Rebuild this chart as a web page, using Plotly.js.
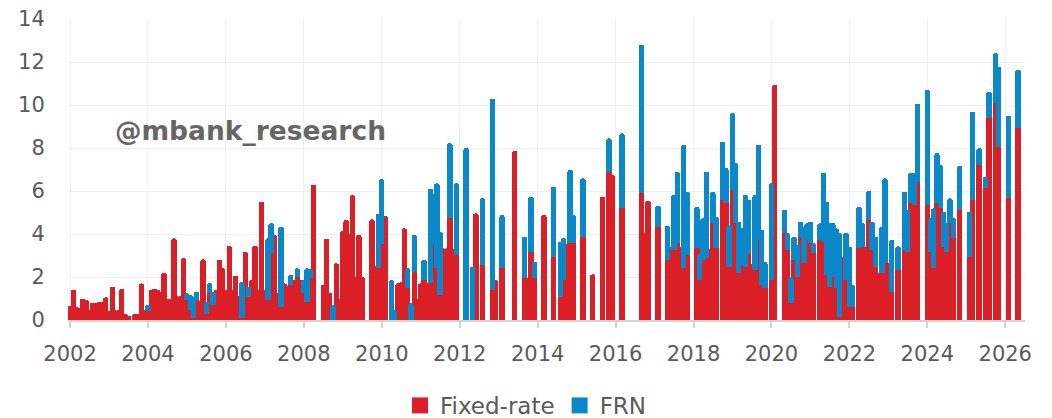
<!DOCTYPE html>
<html>
<head>
<meta charset="utf-8">
<script src="https://cdn.plot.ly/plotly-3.0.1.min.js"></script>
<style>
  html, body { margin: 0; padding: 0; background: #ffffff; }
  #chart { width: 1052px; height: 418px; }
</style>
</head>
<body>
<div id="chart"></div>
<script>
// Monthly issuance, starting January 2002 (one value per month)
const startYear = 2002;
const fixedRate = [
  0.65, 1.4, 0.6, 0.55, 1.0, 0.95, 0.45, 0.8, 0.8, 0.85, 0.85, 1.05,
  0.4, 1.55, 0.45, 0.45, 1.45, 0.3, 0.2, 0, 0.3, 0.3, 1.7, 0.45,
  0.4, 1.4, 1.45, 1.4, 1.3, 2.2, 1.0, 1.0, 3.8, 1.1, 1.1, 2.87,
  0.93, 0.45, 0.08, 0.93, 0.9, 2.82, 0.3, 1.24, 0.7, 1.4, 2.8, 2.4,
  1.4, 3.45, 1.4, 2.05, 1.1, 0.08, 3.18, 1.08, 1.85, 3.45, 1.4, 5.5,
  1.4, 0.93, 3.1, 3.95, 1.25, 0.62, 1.7, 1.6, 1.63, 1.85, 2.0, 1.85,
  1.25, 0.85, 1.95, 6.28, 0, 0, 1.63, 3.77, 1.25, 0, 2.63, 1.0,
  4.15, 4.65, 4.0, 5.8, 2.0, 3.95, 2.0, 0, 0, 4.68, 2.5, 2.4,
  3.55, 4.84, 0, 0, 0, 1.7, 1.75, 4.26, 1.5, 0, 2.25, 1.0,
  1.7, 1.85, 1.7, 1.7, 3.55, 2.4, 1.15, 3.33, 3.33, 4.73, 3.3, 3.02,
  0, 0, 0, 0, 0, 4.96, 0, 2.56, 0, 0, 1.4, 1.85,
  0, 2.4, 0, 0, 0, 7.86, 0, 0, 1.94, 1.94, 3.18, 1.94,
  0, 0, 4.88, 0, 0, 2.95, 0, 1.05, 1.86, 3.55, 3.57, 3.57,
  0, 0, 3.88, 0, 0, 2.12, 0, 0, 5.74, 0, 6.9, 6.74,
  0, 0, 5.19, 0, 0, 0, 0, 0, 5.89, 4.03, 5.55, 0,
  0, 4.34, 0, 0, 2.79, 3.41, 3.26, 3.57, 3.4, 2.4, 3.02, 0,
  0, 3.33, 1.86, 2.79, 2.87, 3.3, 4.5, 3.33, 0, 5.58, 5.43, 2.48,
  6.05, 4.5, 2.17, 2.56, 2.48, 3.1, 2.6, 2.33, 3.72, 1.63, 1.47, 0,
  1.86, 10.93, 0, 0, 4.03, 3.26, 0.78, 2.79, 2.02, 3.88, 2.64, 3.72,
  3.57, 3.1, 0, 3.72, 3.64, 2.09, 1.55, 2.0, 1.47, 0.16, 2.95, 1.86,
  0.62, 0.62, 0, 3.33, 3.41, 3.4, 4.65, 3.26, 2.48, 2.2, 2.17, 2.64,
  2.64, 1.32, 0, 2.33, 0, 3.26, 3.18, 5.43, 5.35, 6.43, 0, 0,
  5.35, 3.18, 2.4, 5.43, 5.19, 3.41, 3.18, 4.5, 3.8, 0, 5.12, 0,
  0, 2.95, 5.58, 0, 7.21, 0, 6.12, 9.38, 0, 10.08, 8.06, 0,
  0, 5.66, 0, 0, 8.91
];
const frn = [
  0, 0, 0, 0, 0, 0, 0, 0, 0, 0, 0, 0,
  0, 0, 0, 0, 0, 0, 0, 0, 0, 0, 0, 0,
  0.3, 0, 0, 0, 0, 0, 0, 0, 0, 0, 0, 0,
  0.31, 0.7, 1.0, 0.39, 0, 0, 0.55, 0.47, 0.62, 0, 0, 0,
  0, 0, 0, 0, 0, 1.7, 0, 0.47, 0, 0, 0, 0,
  0, 2.87, 1.4, 0, 0, 3.72, 0, 0, 0.46, 0, 0.4, 0,
  0.6, 1.55, 0.4, 0, 0, 0, 0, 0, 0, 0.7, 0, 0,
  0, 0, 0, 0, 0, 0, 0, 0, 0, 0, 0, 2.55,
  3.0, 0, 0, 1.85, 0.45, 0, 0, 0, 0.9, 0.8, 1.7, 0,
  0, 0.95, 0, 4.4, 2.3, 3.95, 2.95, 0, 0, 3.49, 0, 3.34,
  0, 0, 8.0, 0, 2.48, 0, 0, 3.1, 0, 0, 8.9, 0,
  0, 2.48, 0, 0, 0, 0, 0, 0, 1.94, 0, 2.56, 0.78,
  0, 0, 0, 0, 0, 3.25, 0, 2.6, 1.94, 0, 3.41, 1.3,
  0, 0, 2.71, 0, 0, 0, 0, 0, 0, 0, 1.55, 0,
  0, 0, 3.49, 0, 0, 0, 0, 0, 6.9, 0, 0, 0,
  0, 0.98, 0, 0, 1.58, 0, 2.56, 3.33, 0, 5.74, 2.95, 0,
  0, 1.94, 1.24, 1.94, 4.03, 0, 1.47, 1.47, 0, 2.71, 1.63, 1.94,
  3.57, 2.79, 2.4, 1.7, 3.33, 2.48, 0, 3.49, 4.42, 2.56, 1.24, 0,
  4.5, 0, 0, 0, 1.09, 0.78, 1.24, 1.09, 1.47, 0.7, 1.7, 0.78,
  1.0, 0.47, 0, 0.78, 3.21, 3.41, 2.98, 2.5, 2.79, 3.88, 0, 2.2,
  2.79, 1.0, 0, 1.94, 1.09, 0, 1.35, 1.32, 1.4, 0, 2.17, 3.95,
  0, 2.4, 0, 1.09, 0, 2.71, 1.94, 1.4, 1.47, 3.64, 0, 0,
  5.35, 1.55, 2.79, 2.33, 2.02, 1.63, 1.32, 1.16, 0.93, 0, 2.05, 0,
  0, 2.09, 4.11, 0, 0.78, 0, 0.54, 1.24, 0, 2.33, 3.72, 0,
  0, 3.83, 0, 0, 2.74
];
const seriesNames = ['Fixed-rate', 'FRN'];
const yTicks = [0, 2, 4, 6, 8, 10, 12, 14];
const xTickYears = ['2002','2004','2006','2008','2010','2012','2014','2016','2018','2020','2022','2024','2026'];
const watermark = '@mbank_research';

const RED = '#da1f26';
const BLUE = '#0a88ca';
const months = fixedRate.map((_, i) => {
  const y = startYear + Math.floor(i / 12);
  const m = (i % 12) + 1;
  return y + '-' + (m < 10 ? '0' + m : m) + '-01';
});
const MONTH_MS = 2629800000;
const barW = 1.65 * MONTH_MS;

const traces = [
  { type: 'bar', name: seriesNames[0], x: months, y: fixedRate, width: barW,
    marker: { color: RED, line: { width: 0 } }, showlegend: false, hoverinfo: 'x+y' },
  { type: 'bar', name: seriesNames[1], x: months, y: frn, width: barW,
    marker: { color: BLUE, line: { width: 0 } }, showlegend: false, hoverinfo: 'x+y' },
  { type: 'scatter', mode: 'markers', name: seriesNames[0], x: [null], y: [null],
    marker: { symbol: 'square', size: 16, color: RED } },
  { type: 'scatter', mode: 'markers', name: seriesNames[1], x: [null], y: [null],
    marker: { symbol: 'square', size: 16, color: BLUE } }
];

const FONT = '"DejaVu Sans", Verdana, sans-serif';
const layout = {
  width: 1052, height: 418,
  margin: { l: 68, r: 27, t: 19, b: 98 },
  paper_bgcolor: '#ffffff', plot_bgcolor: '#ffffff',
  barmode: 'stack', bargap: 0,
  barcornerradius: '50%',
  font: { family: FONT, color: '#5a5a5a', size: 21 },
  xaxis: {
    type: 'date',
    range: ['2001-12-13', '2026-07-05'],
    tickvals: xTickYears.map(y => y + '-01-01'),
    ticktext: xTickYears,
    showgrid: true, gridcolor: '#efefef', gridwidth: 1,
    showline: true, linecolor: '#d3d3d3', linewidth: 2,
    ticks: 'outside', ticklen: 6, tickcolor: '#d3d3d3', tickwidth: 2,
    ticklabelstandoff: 8,
    tickfont: { family: FONT, size: 21, color: '#5a5a5a' },
    zeroline: false, fixedrange: true
  },
  yaxis: {
    range: [0, 14],
    tickvals: yTicks,
    showgrid: true, gridcolor: '#efefef', gridwidth: 1,
    showline: false, zeroline: false,
    ticks: 'outside', ticklen: 18, tickcolor: 'rgba(0,0,0,0)',
    tickfont: { family: FONT, size: 21, color: '#5a5a5a' },
    fixedrange: true
  },
  legend: {
    orientation: 'h',
    traceorder: 'normal',
    xref: 'container', yref: 'container',
    x: 0.5, xanchor: 'center',
    y: 0.03, yanchor: 'middle',
    font: { family: FONT, size: 23, color: '#5a5a5a' },
    itemwidth: 20,
    bgcolor: 'rgba(0,0,0,0)'
  },
  annotations: [{
    text: '<b>' + watermark + '</b>',
    xref: 'paper', yref: 'paper',
    x: 0.047, y: 0.63, xanchor: 'left', yanchor: 'middle',
    showarrow: false,
    font: { family: FONT, size: 26.5, color: '#666666' }
  }]
};

Plotly.newPlot('chart', traces, layout, { displayModeBar: false, staticPlot: true });
</script>
</body>
</html>
